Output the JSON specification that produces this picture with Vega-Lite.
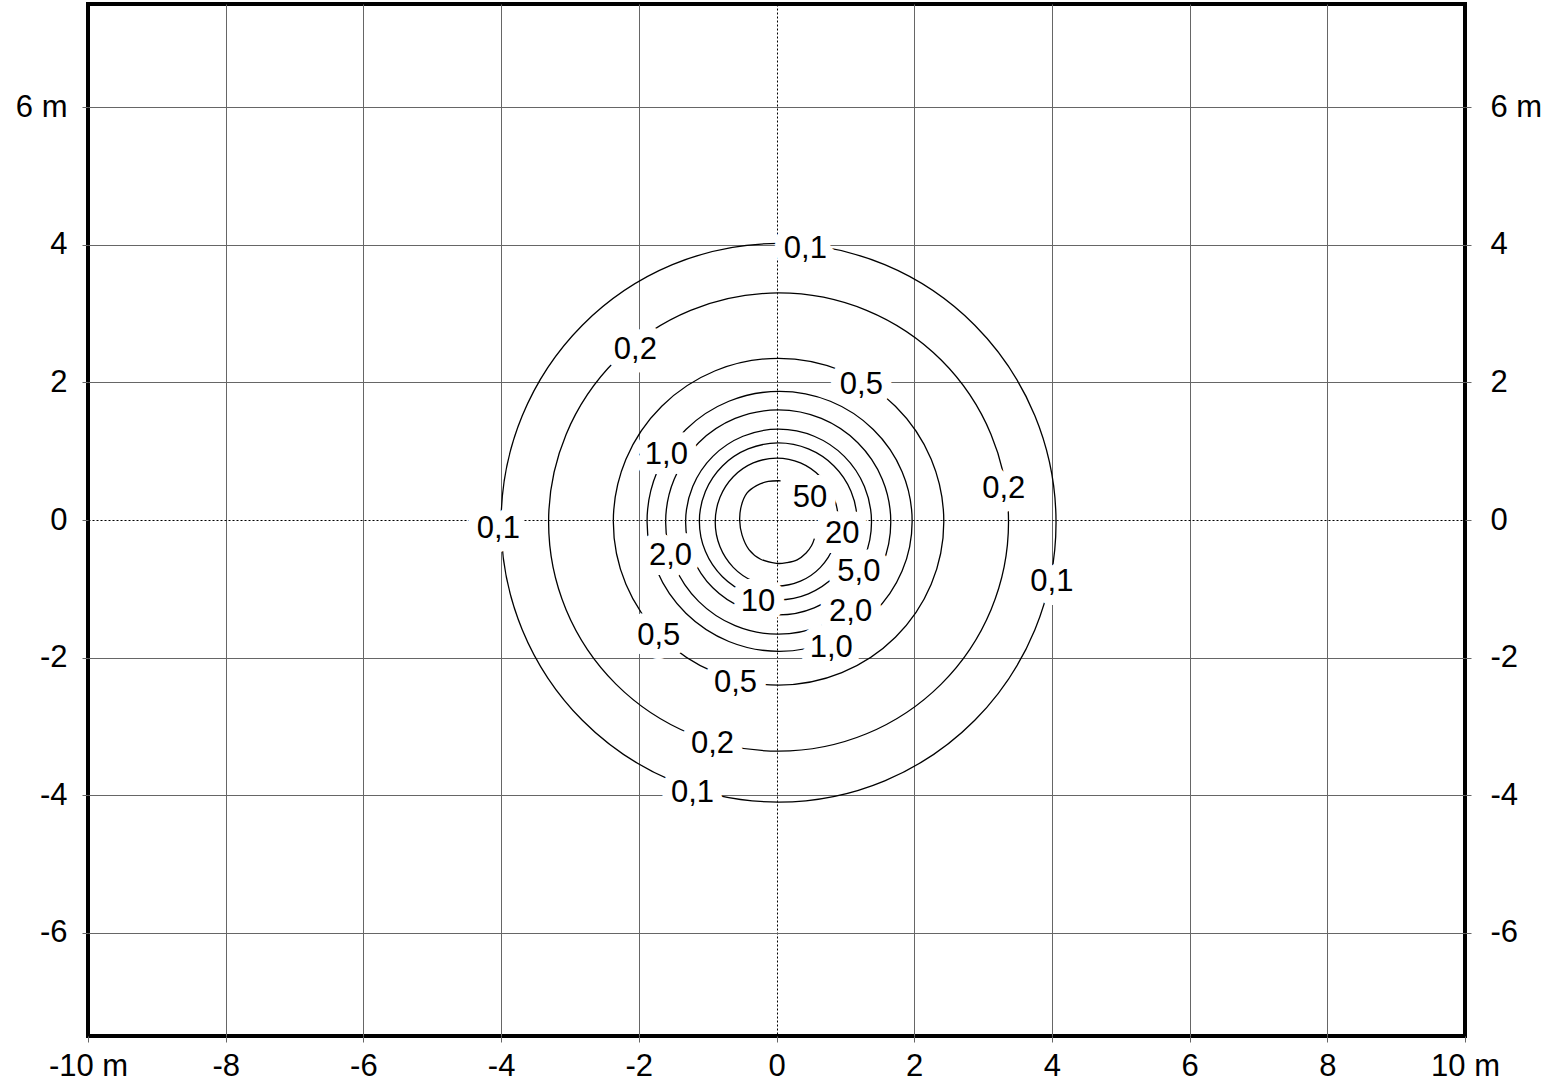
{
  "$schema": "https://vega.github.io/schema/vega-lite/v6.json",
  "width": 1377,
  "height": 1032,
  "autosize": {"type": "none"},
  "padding": {"left": 88, "top": 4, "right": 81, "bottom": 46},
  "background": "white",
  "config": {
    "view": {"stroke": "black", "strokeWidth": 4},
    "axis": {
      "domain": false,
      "labelFont": "Liberation Sans",
      "labelFontSize": 31,
      "labelColor": "black",
      "tickColor": "#666666",
      "tickSize": 6,
      "tickWidth": 1,
      "gridColor": "#666666",
      "gridWidth": 1,
      "labelOverlap": false,
      "labelFlush": false,
      "labelBound": false,
      "title": null
    }
  },
  "datasets": {
    "contours": [
      {"l": "0.1", "i": 0, "x": 4.06, "y": -0.04},
      {"l": "0.1", "i": 1, "x": 3.753, "y": 1.514},
      {"l": "0.1", "i": 2, "x": 2.88, "y": 2.831},
      {"l": "0.1", "i": 3, "x": 1.572, "y": 3.711},
      {"l": "0.1", "i": 4, "x": 0.03, "y": 4.02},
      {"l": "0.1", "i": 5, "x": -1.512, "y": 3.711},
      {"l": "0.1", "i": 6, "x": -2.82, "y": 2.831},
      {"l": "0.1", "i": 7, "x": -3.693, "y": 1.514},
      {"l": "0.1", "i": 8, "x": -4.0, "y": -0.04},
      {"l": "0.1", "i": 9, "x": -3.693, "y": -1.594},
      {"l": "0.1", "i": 10, "x": -2.82, "y": -2.911},
      {"l": "0.1", "i": 11, "x": -1.512, "y": -3.791},
      {"l": "0.1", "i": 12, "x": 0.03, "y": -4.1},
      {"l": "0.1", "i": 13, "x": 1.572, "y": -3.791},
      {"l": "0.1", "i": 14, "x": 2.88, "y": -2.911},
      {"l": "0.1", "i": 15, "x": 3.753, "y": -1.594},

      {"l": "0.2", "i": 0, "x": 3.37, "y": -0.03},
      {"l": "0.2", "i": 1, "x": 3.116, "y": 1.244},
      {"l": "0.2", "i": 2, "x": 2.392, "y": 2.325},
      {"l": "0.2", "i": 3, "x": 1.308, "y": 3.047},
      {"l": "0.2", "i": 4, "x": 0.03, "y": 3.3},
      {"l": "0.2", "i": 5, "x": -1.248, "y": 3.047},
      {"l": "0.2", "i": 6, "x": -2.332, "y": 2.325},
      {"l": "0.2", "i": 7, "x": -3.056, "y": 1.244},
      {"l": "0.2", "i": 8, "x": -3.31, "y": -0.03},
      {"l": "0.2", "i": 9, "x": -3.056, "y": -1.304},
      {"l": "0.2", "i": 10, "x": -2.332, "y": -2.385},
      {"l": "0.2", "i": 11, "x": -1.248, "y": -3.107},
      {"l": "0.2", "i": 12, "x": 0.03, "y": -3.36},
      {"l": "0.2", "i": 13, "x": 1.308, "y": -3.107},
      {"l": "0.2", "i": 14, "x": 2.392, "y": -2.385},
      {"l": "0.2", "i": 15, "x": 3.116, "y": -1.304},

      {"l": "0.5", "i": 0, "x": 2.43, "y": -0.025},
      {"l": "0.5", "i": 1, "x": 2.247, "y": 0.884},
      {"l": "0.5", "i": 2, "x": 1.727, "y": 1.654},
      {"l": "0.5", "i": 3, "x": 0.949, "y": 2.169},
      {"l": "0.5", "i": 4, "x": 0.03, "y": 2.35},
      {"l": "0.5", "i": 5, "x": -0.889, "y": 2.169},
      {"l": "0.5", "i": 6, "x": -1.667, "y": 1.654},
      {"l": "0.5", "i": 7, "x": -2.187, "y": 0.884},
      {"l": "0.5", "i": 8, "x": -2.37, "y": -0.025},
      {"l": "0.5", "i": 9, "x": -2.187, "y": -0.934},
      {"l": "0.5", "i": 10, "x": -1.667, "y": -1.704},
      {"l": "0.5", "i": 11, "x": -0.889, "y": -2.219},
      {"l": "0.5", "i": 12, "x": 0.03, "y": -2.4},
      {"l": "0.5", "i": 13, "x": 0.949, "y": -2.219},
      {"l": "0.5", "i": 14, "x": 1.727, "y": -1.704},
      {"l": "0.5", "i": 15, "x": 2.247, "y": -0.934},

      {"l": "1.0", "i": 0, "x": 1.97, "y": -0.02},
      {"l": "1.0", "i": 1, "x": 1.824, "y": 0.703},
      {"l": "1.0", "i": 2, "x": 1.406, "y": 1.316},
      {"l": "1.0", "i": 3, "x": 0.782, "y": 1.726},
      {"l": "1.0", "i": 4, "x": 0.045, "y": 1.87},
      {"l": "1.0", "i": 5, "x": -0.692, "y": 1.726},
      {"l": "1.0", "i": 6, "x": -1.316, "y": 1.316},
      {"l": "1.0", "i": 7, "x": -1.734, "y": 0.703},
      {"l": "1.0", "i": 8, "x": -1.88, "y": -0.02},
      {"l": "1.0", "i": 9, "x": -1.734, "y": -0.743},
      {"l": "1.0", "i": 10, "x": -1.316, "y": -1.356},
      {"l": "1.0", "i": 11, "x": -0.692, "y": -1.766},
      {"l": "1.0", "i": 12, "x": 0.045, "y": -1.91},
      {"l": "1.0", "i": 13, "x": 0.782, "y": -1.766},
      {"l": "1.0", "i": 14, "x": 1.406, "y": -1.356},
      {"l": "1.0", "i": 15, "x": 1.824, "y": -0.743},

      {"l": "2.0", "i": 0, "x": 1.66, "y": -0.03},
      {"l": "2.0", "i": 1, "x": 1.536, "y": 0.594},
      {"l": "2.0", "i": 2, "x": 1.181, "y": 1.123},
      {"l": "2.0", "i": 3, "x": 0.651, "y": 1.476},
      {"l": "2.0", "i": 4, "x": 0.025, "y": 1.6},
      {"l": "2.0", "i": 5, "x": -0.601, "y": 1.476},
      {"l": "2.0", "i": 6, "x": -1.131, "y": 1.123},
      {"l": "2.0", "i": 7, "x": -1.486, "y": 0.594},
      {"l": "2.0", "i": 8, "x": -1.61, "y": -0.03},
      {"l": "2.0", "i": 9, "x": -1.486, "y": -0.654},
      {"l": "2.0", "i": 10, "x": -1.131, "y": -1.183},
      {"l": "2.0", "i": 11, "x": -0.601, "y": -1.536},
      {"l": "2.0", "i": 12, "x": 0.025, "y": -1.66},
      {"l": "2.0", "i": 13, "x": 0.651, "y": -1.536},
      {"l": "2.0", "i": 14, "x": 1.181, "y": -1.183},
      {"l": "2.0", "i": 15, "x": 1.536, "y": -0.654},

      {"l": "5.0", "i": 0, "x": 1.38, "y": -0.03},
      {"l": "5.0", "i": 1, "x": 1.277, "y": 0.487},
      {"l": "5.0", "i": 2, "x": 0.985, "y": 0.925},
      {"l": "5.0", "i": 3, "x": 0.547, "y": 1.217},
      {"l": "5.0", "i": 4, "x": 0.03, "y": 1.32},
      {"l": "5.0", "i": 5, "x": -0.487, "y": 1.217},
      {"l": "5.0", "i": 6, "x": -0.925, "y": 0.925},
      {"l": "5.0", "i": 7, "x": -1.217, "y": 0.487},
      {"l": "5.0", "i": 8, "x": -1.32, "y": -0.03},
      {"l": "5.0", "i": 9, "x": -1.217, "y": -0.547},
      {"l": "5.0", "i": 10, "x": -0.925, "y": -0.985},
      {"l": "5.0", "i": 11, "x": -0.487, "y": -1.277},
      {"l": "5.0", "i": 12, "x": 0.03, "y": -1.38},
      {"l": "5.0", "i": 13, "x": 0.547, "y": -1.277},
      {"l": "5.0", "i": 14, "x": 0.985, "y": -0.985},
      {"l": "5.0", "i": 15, "x": 1.277, "y": -0.547},

      {"l": "10", "i": 0, "x": 1.17, "y": -0.02},
      {"l": "10", "i": 1, "x": 1.083, "y": 0.416},
      {"l": "10", "i": 2, "x": 0.835, "y": 0.786},
      {"l": "10", "i": 3, "x": 0.463, "y": 1.033},
      {"l": "10", "i": 4, "x": 0.025, "y": 1.12},
      {"l": "10", "i": 5, "x": -0.413, "y": 1.033},
      {"l": "10", "i": 6, "x": -0.785, "y": 0.786},
      {"l": "10", "i": 7, "x": -1.033, "y": 0.416},
      {"l": "10", "i": 8, "x": -1.12, "y": -0.02},
      {"l": "10", "i": 9, "x": -1.033, "y": -0.456},
      {"l": "10", "i": 10, "x": -0.785, "y": -0.826},
      {"l": "10", "i": 11, "x": -0.413, "y": -1.073},
      {"l": "10", "i": 12, "x": 0.025, "y": -1.16},
      {"l": "10", "i": 13, "x": 0.463, "y": -1.073},
      {"l": "10", "i": 14, "x": 0.835, "y": -0.826},
      {"l": "10", "i": 15, "x": 1.083, "y": -0.456},

      {"l": "20", "i": 0, "x": 0.9, "y": -0.03},
      {"l": "20", "i": 1, "x": 0.832, "y": 0.326},
      {"l": "20", "i": 2, "x": 0.638, "y": 0.628},
      {"l": "20", "i": 3, "x": 0.348, "y": 0.829},
      {"l": "20", "i": 4, "x": 0.005, "y": 0.9},
      {"l": "20", "i": 5, "x": -0.338, "y": 0.829},
      {"l": "20", "i": 6, "x": -0.628, "y": 0.628},
      {"l": "20", "i": 7, "x": -0.822, "y": 0.326},
      {"l": "20", "i": 8, "x": -0.89, "y": -0.03},
      {"l": "20", "i": 9, "x": -0.822, "y": -0.386},
      {"l": "20", "i": 10, "x": -0.628, "y": -0.688},
      {"l": "20", "i": 11, "x": -0.338, "y": -0.889},
      {"l": "20", "i": 12, "x": 0.005, "y": -0.96},
      {"l": "20", "i": 13, "x": 0.348, "y": -0.889},
      {"l": "20", "i": 14, "x": 0.638, "y": -0.688},
      {"l": "20", "i": 15, "x": 0.832, "y": -0.386}
    ],
    "c50": [
      {"i": 0, "x": 0.06, "y": 0.57},
      {"i": 1, "x": -0.12, "y": 0.56},
      {"i": 2, "x": -0.29, "y": 0.5},
      {"i": 3, "x": -0.43, "y": 0.39},
      {"i": 4, "x": -0.51, "y": 0.21},
      {"i": 5, "x": -0.535, "y": 0.0},
      {"i": 6, "x": -0.5, "y": -0.22},
      {"i": 7, "x": -0.4, "y": -0.43},
      {"i": 8, "x": -0.23, "y": -0.57},
      {"i": 9, "x": 0.0, "y": -0.63},
      {"i": 10, "x": 0.15, "y": -0.62},
      {"i": 11, "x": 0.3, "y": -0.58},
      {"i": 12, "x": 0.43, "y": -0.48},
      {"i": 13, "x": 0.51, "y": -0.37},
      {"i": 14, "x": 0.55, "y": -0.27}
    ],
    "labels": [
      {"t": "0,1", "x": 0.42, "y": 3.94},
      {"t": "0,1", "x": -4.04, "y": -0.135},
      {"t": "0,1", "x": 4.0, "y": -0.9},
      {"t": "0,1", "x": -1.22, "y": -3.975},
      {"t": "0,2", "x": -2.05, "y": 2.47},
      {"t": "0,2", "x": 3.3, "y": 0.454},
      {"t": "0,2", "x": -0.93, "y": -3.256},
      {"t": "0,5", "x": 1.233, "y": 1.961},
      {"t": "0,5", "x": -1.71, "y": -1.693},
      {"t": "0,5", "x": -0.596, "y": -2.376},
      {"t": "1,0", "x": -1.6, "y": 0.944},
      {"t": "1,0", "x": 0.795, "y": -1.857},
      {"t": "2,0", "x": -1.54, "y": -0.52},
      {"t": "2,0", "x": 1.076, "y": -1.334},
      {"t": "5,0", "x": 1.197, "y": -0.762},
      {"t": "10", "x": -0.27, "y": -1.199},
      {"t": "20", "x": 0.955, "y": -0.205},
      {"t": "50", "x": 0.485, "y": 0.313}
    ]
  },
  "layer": [
    {
      "data": {"name": "contours"},
      "mark": {"type": "line", "interpolate": "cardinal-closed", "stroke": "black", "strokeWidth": 1.3},
      "encoding": {
        "x": {
          "field": "x", "type": "quantitative",
          "scale": {"domain": [-10, 10], "nice": false, "zero": false},
          "axis": {
            "orient": "bottom",
            "values": [-10, -8, -6, -4, -2, 0, 2, 4, 6, 8, 10],
            "labelExpr": "datum.value == 10 ? '10 m' : (datum.value == -10 ? '-10 m' : '' + datum.value)",
            "labelPadding": 9,
            "gridDash": {"condition": {"test": "datum.value === 0", "value": [2, 2]}, "value": []},
            "gridColor": {"condition": {"test": "datum.value === 0", "value": "black"}, "value": "#666666"},
            "gridOpacity": {"condition": {"test": "abs(datum.value) === 10", "value": 0}, "value": 1}
          }
        },
        "y": {
          "field": "y", "type": "quantitative",
          "scale": {"domain": [-7.5, 7.5], "nice": false, "zero": false},
          "axis": {
            "orient": "left",
            "values": [-6, -4, -2, 0, 2, 4, 6],
            "labelExpr": "datum.value == 6 ? '6 m' : '' + datum.value",
            "labelPadding": 15,
            "gridDash": {"condition": {"test": "datum.value === 0", "value": [2, 2]}, "value": []},
            "gridColor": {"condition": {"test": "datum.value === 0", "value": "black"}, "value": "#666666"}
          }
        },
        "detail": {"field": "l"},
        "order": {"field": "i", "type": "quantitative"}
      }
    },
    {
      "data": {"name": "c50"},
      "mark": {"type": "line", "interpolate": "cardinal", "stroke": "black", "strokeWidth": 1.3},
      "encoding": {
        "x": {"field": "x", "type": "quantitative"},
        "y": {"field": "y", "type": "quantitative", "axis": null},
        "order": {"field": "i", "type": "quantitative"}
      }
    },
    {
      "data": {"name": "labels"},
      "mark": {"type": "text", "font": "Liberation Sans", "fontSize": 31, "align": "center", "baseline": "middle", "fill": "white", "stroke": "white", "strokeWidth": 20, "strokeJoin": "round"},
      "encoding": {
        "x": {"field": "x", "type": "quantitative"},
        "y": {
          "field": "y", "type": "quantitative",
          "axis": {
            "orient": "right",
            "grid": false,
            "values": [-6, -4, -2, 0, 2, 4, 6],
            "labelExpr": "datum.value == 6 ? '6 m' : '' + datum.value",
            "labelPadding": 19
          }
        },
        "text": {"field": "t"}
      }
    },
    {
      "data": {"name": "labels"},
      "mark": {"type": "text", "font": "Liberation Sans", "fontSize": 31, "align": "center", "baseline": "middle", "fill": "black"},
      "encoding": {
        "x": {"field": "x", "type": "quantitative"},
        "y": {"field": "y", "type": "quantitative", "axis": null},
        "text": {"field": "t"}
      }
    }
  ],
  "resolve": {"axis": {"y": "independent"}}
}
